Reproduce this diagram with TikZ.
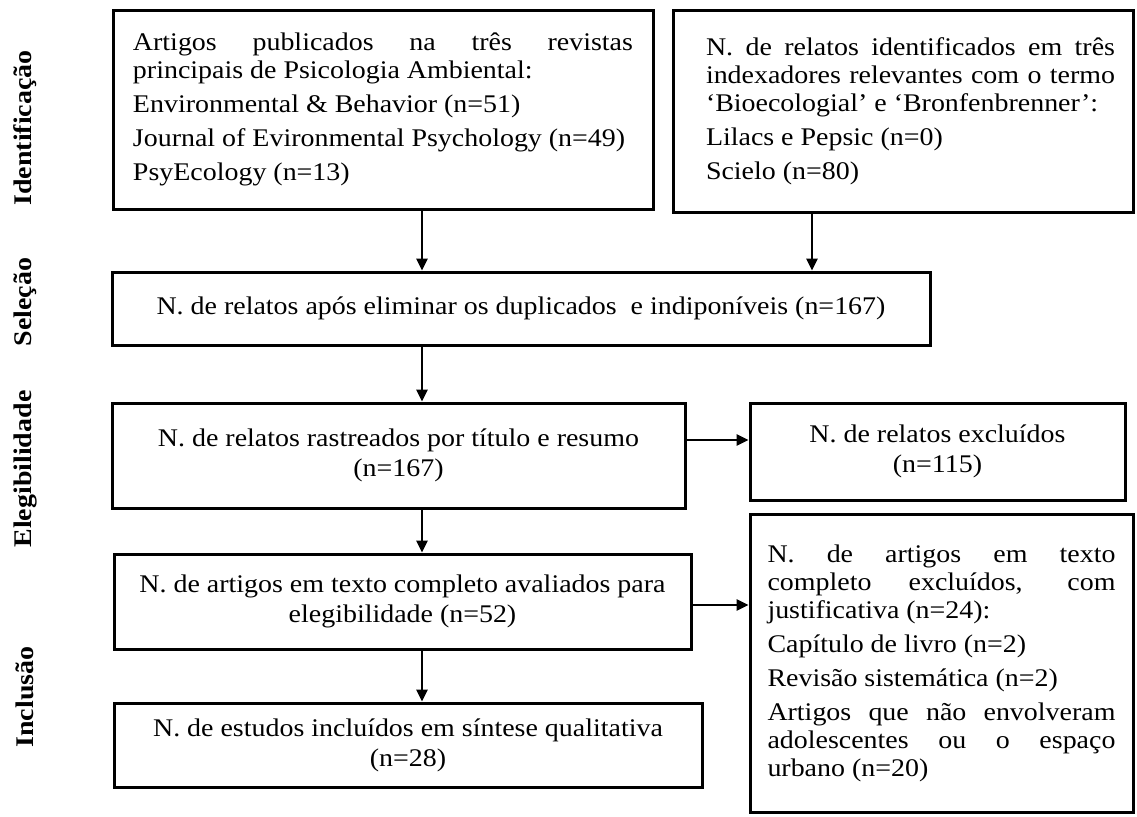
\documentclass[tikz,border=0pt]{standalone}
\usepackage{fontspec}
\setmainfont{Liberation Serif}[FakeStretch=1.1]
\usetikzlibrary{arrows.meta}
\hyphenpenalty=10000
\exhyphenpenalty=10000
\newcommand{\fsz}{\fontsize{12.7}{14}\selectfont}
\newcommand{\pgap}{\par\vspace{3pt}}
\begin{document}
\begin{tikzpicture}[x=0.5pt,y=-0.5pt,
  box/.style={draw, line width=1.5pt, fill=white, inner sep=0pt, font=\fsz},
  jbox/.style={box, align=justify},
  cbox/.style={box, align=center},
  phase/.style={rotate=90, font=\fsz\bfseries},
  arr/.style={line width=1.3pt, -{Triangle[length=6pt,width=5.5pt]}}
]
\fill[white] (0,0) rectangle (1137,816);
\useasboundingbox (0,0) rectangle (1137,816);

% phase labels
\node[phase] (p1) at (25,128) {Identificação};
\node[phase] (p2) at (25,302) {Seleção};
\node[phase] (p3) at (25,469) {Elegibilidade};
\node[phase] (p4) at (25,697) {Inclusão};

% boxes
\node[jbox, minimum width=270pt, minimum height=99.5pt, text width=250pt] (A) at (383,109.5)
 {\fsz Artigos publicados na três revistas\linebreak principais de Psicologia Ambiental:\pgap
  Environmental \& Behavior (n=51)\pgap
  Journal of Evironmental Psychology (n=49)\pgap
  PsyEcology (n=13)\par\vspace{5pt}};

\node[jbox, minimum width=230pt, minimum height=101pt, text width=212pt] (B) at (903,111)
 {\fsz\leftskip=7.5pt N. de relatos identificados em três\linebreak indexadores relevantes com o termo\linebreak ‘Bioecologial’ e ‘Bronfenbrenner’:\pgap
  Lilacs e Pepsic (n=0)\pgap
  Scielo (n=80)\par\vspace{14pt}};

\node[cbox, minimum width=409pt, minimum height=36.5pt] (C) at (521,308.5)
 {N. de relatos após eliminar os duplicados\ \ e indiponíveis (n=167)};

\node[cbox, minimum width=286.5pt, minimum height=52.5pt] (D) at (398.5,455.5)
 {N. de relatos rastreados por título e resumo\\[1pt](n=167)};

\node[cbox, minimum width=187.5pt, minimum height=48.5pt] (E) at (937.5,451.5)
 {N. de relatos excluídos\\[1pt](n=115)};

\node[cbox, minimum width=288.5pt, minimum height=47.5pt] (F) at (402.5,601.5)
 {N. de artigos em texto completo avaliados para\\[1pt]elegibilidade (n=52)};

\node[cbox, minimum width=294pt, minimum height=42pt] (G) at (408,745)
 {N. de estudos incluídos em síntese qualitativa\\[1pt](n=28)};

\node[jbox, minimum width=191.5pt, minimum height=149pt, text width=174pt] (H) at (941.5,663)
 {\fsz N. de artigos em texto\linebreak completo excluídos, com\linebreak justificativa (n=24):\pgap
  Capítulo de livro (n=2)\pgap
  Revisão sistemática (n=2)\pgap
  Artigos que não envolveram\linebreak adolescentes ou o espaço\linebreak urbano (n=20)\par\vspace{20pt}};

% connector guides
\coordinate (x1) at (422,0);
\coordinate (x2) at (812,0);
\coordinate (y1) at (0,440);
\coordinate (y2) at (0,605);

\draw[arr] (A.south -| x1) -- (C.north -| x1);
\draw[arr] (B.south -| x2) -- (C.north -| x2);
\draw[arr] (C.south -| x1) -- (D.north -| x1);
\draw[arr] (D.east |- y1) -- (E.west |- y1);
\draw[arr] (D.south -| x1) -- (F.north -| x1);
\draw[arr] (F.east |- y2) -- (H.west |- y2);
\draw[arr] (F.south -| x1) -- (G.north -| x1);
\end{tikzpicture}
\end{document}
